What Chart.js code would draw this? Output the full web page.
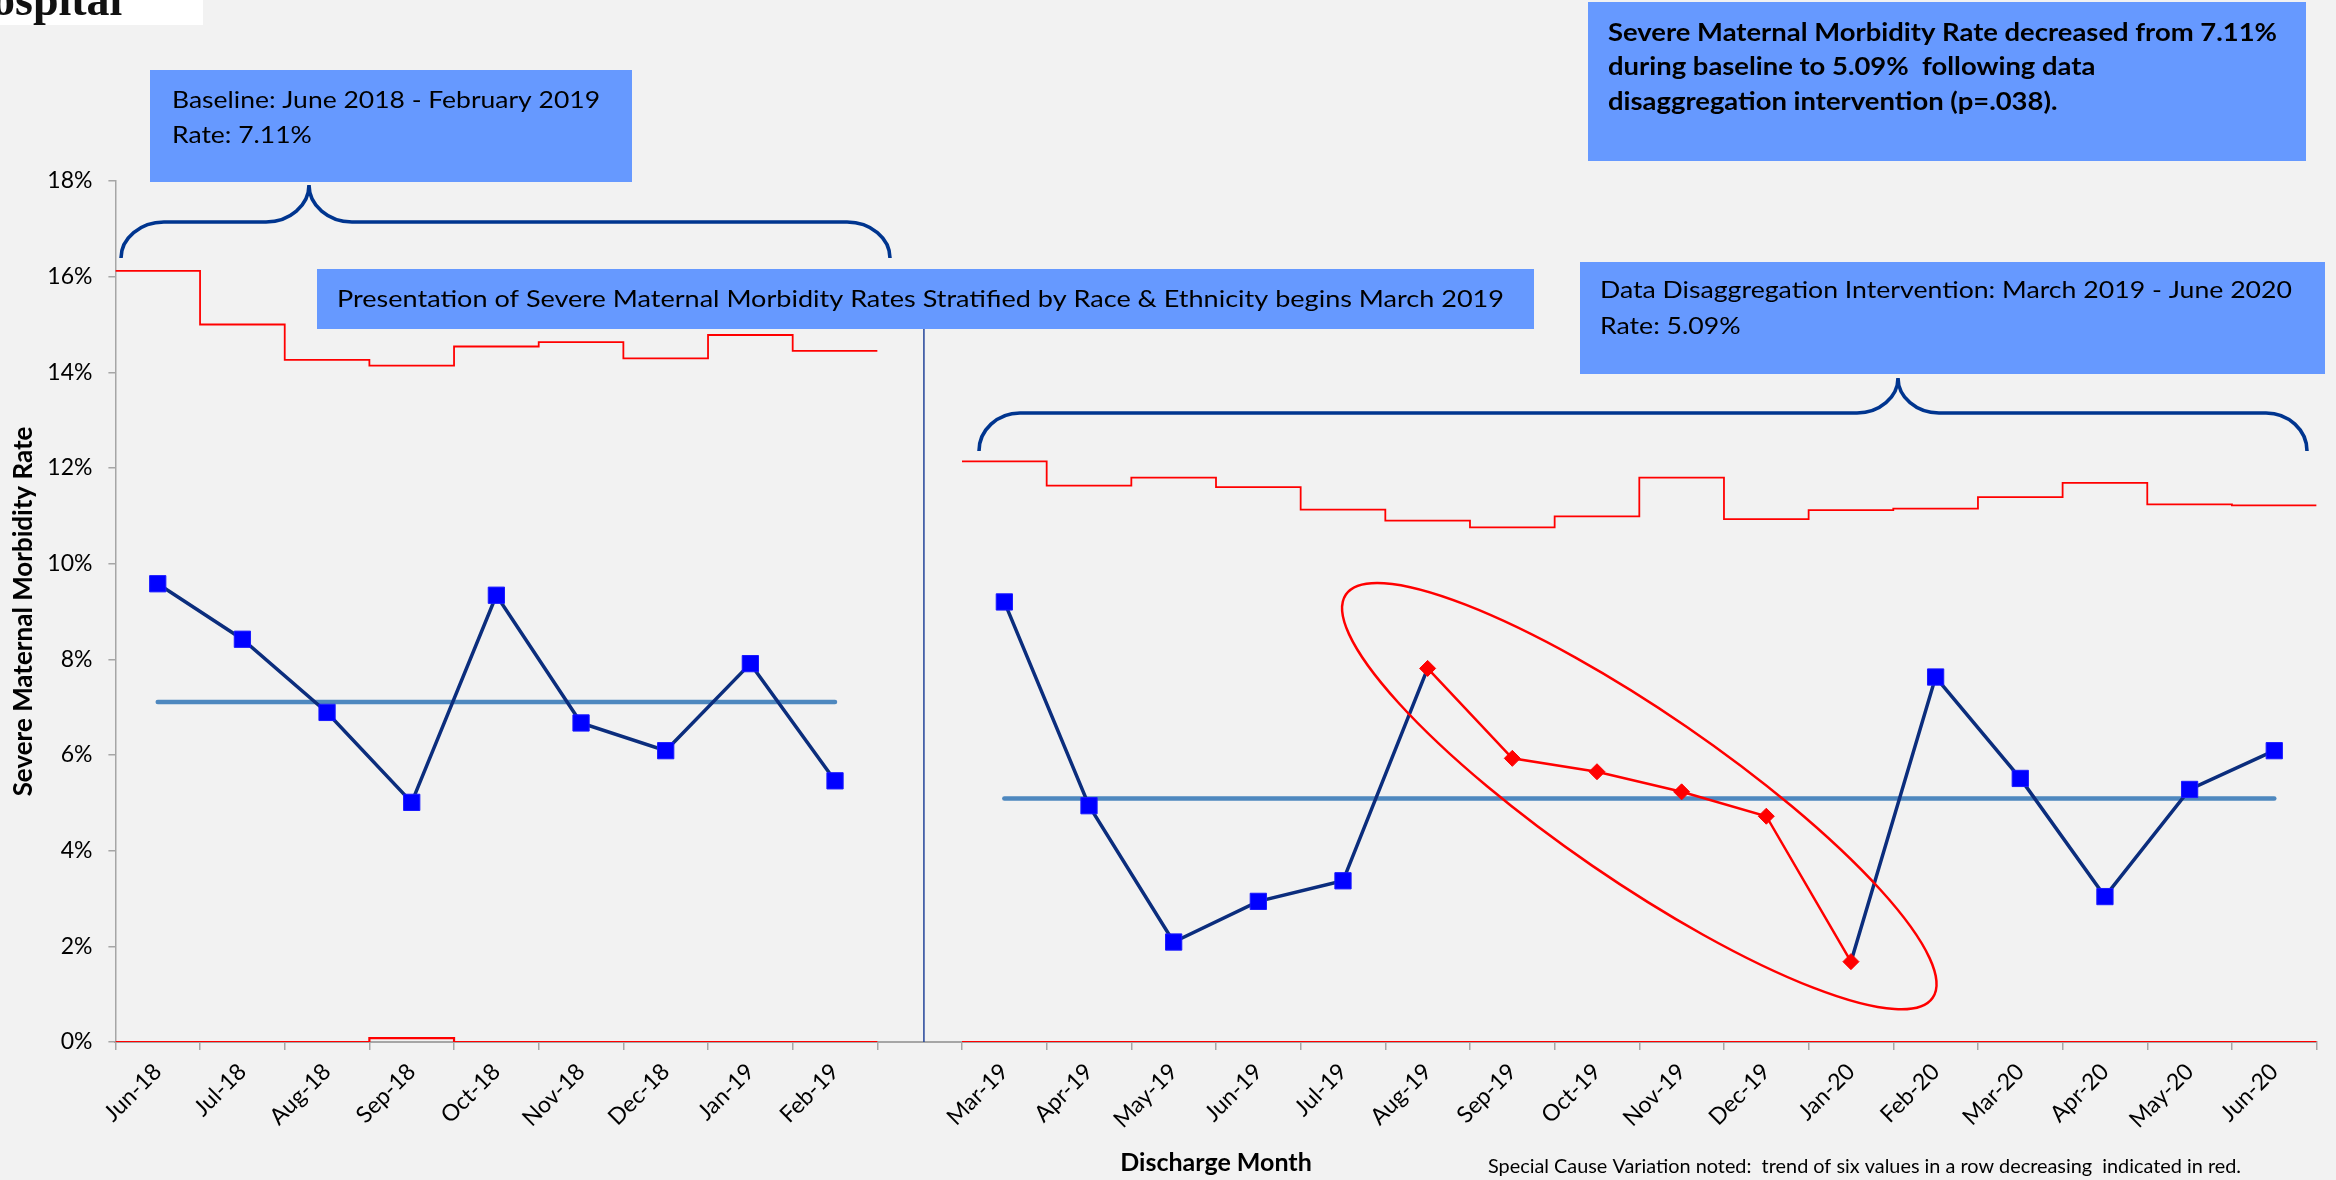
<!DOCTYPE html>
<html>
<head>
<meta charset="utf-8">
<script src="https://cdn.jsdelivr.net/npm/chart.js@4.4.1/dist/chart.umd.min.js"></script>
<style>
  html, body { margin: 0; padding: 0; background: #F2F2F2; overflow: hidden; }
  canvas { display: block; }
</style>
</head>
<body>
<canvas id="smm" width="2336" height="1180"></canvas>
<script>
// Discharge months; the empty label separates the baseline from the intervention period
const months = ['Jun-18', 'Jul-18', 'Aug-18', 'Sep-18', 'Oct-18', 'Nov-18', 'Dec-18', 'Jan-19', 'Feb-19', '',
  'Mar-19', 'Apr-19', 'May-19', 'Jun-19', 'Jul-19', 'Aug-19', 'Sep-19', 'Oct-19', 'Nov-19', 'Dec-19',
  'Jan-20', 'Feb-20', 'Mar-20', 'Apr-20', 'May-20', 'Jun-20'];

// Monthly severe maternal morbidity rate (%)
const smmRate = [9.58, 8.42, 6.89, 5.01, 9.34, 6.67, 6.09, 7.91, 5.46, null,
  9.20, 4.94, 2.09, 2.94, 3.37, 7.81, 5.93, 5.65, 5.23, 4.72,
  1.68, 7.63, 5.51, 3.04, 5.28, 6.09];

// Upper control limit per month (%)
const upperLimit = [16.12, 15.00, 14.26, 14.14, 14.54, 14.63, 14.29, 14.78, 14.45, null,
  12.14, 11.63, 11.80, 11.60, 11.13, 10.90, 10.76, 10.99, 11.80, 10.93,
  11.12, 11.15, 11.39, 11.69, 11.24, 11.22];

// Lower control limit per month (%)
const lowerLimit = [0, 0, 0, 0.08, 0, 0, 0, 0, 0, null,
  0, 0, 0, 0, 0, 0, 0, 0, 0, 0,
  0, 0, 0, 0, 0, 0];

// Period means (%)
const baselineMonths = ['Jun-18', 'Feb-19'];
const baselineMean = 7.11;
const interventionMonths = ['Mar-19', 'Jun-20'];
const interventionMean = 5.09;

// Special-cause trend: six values in a row decreasing
const trendMonths = ['Aug-19', 'Jan-20'];

// Annotation texts
const baselineText = ['Baseline: June 2018 - February 2019', 'Rate: 7.11%'];
const interventionText = ['Data Disaggregation Intervention: March 2019 - June 2020', 'Rate: 5.09%'];
const presentationText = 'Presentation of Severe Maternal Morbidity Rates Stratified by Race & Ethnicity begins March 2019';
const summaryText = ['Severe Maternal Morbidity Rate decreased from 7.11%',
  'during baseline to 5.09%  following data',
  'disaggregation intervention (p=.038).'];
const footnoteText = 'Special Cause Variation noted:  trend of six values in a row decreasing  indicated in red.';

// ---- derived series ----
const idx = m => months.indexOf(m);
const inRange = (i, r) => i >= idx(r[0]) && i <= idx(r[1]);
const inTrend = i => inRange(i, trendMonths);

const baselineLine = months.map((m, i) => inRange(i, baselineMonths) ? baselineMean : null);
const interventionLine = months.map((m, i) => inRange(i, interventionMonths) ? interventionMean : null);

// control limits drawn as steps spanning each month's full category width
function stepPoints(vals) {
  const pts = [];
  vals.forEach((v, i) => {
    if (v === null) { pts.push({ x: i + 0.5, y: null }); return; }
    pts.push({ x: i, y: v }, { x: i + 1, y: v });
  });
  return pts;
}

const NAVY = '#0B2D7D';
const BRACE = '#00358F';
const BOX = '#6699FF';
const RED = '#FF0000';
const MEAN = '#4E88BF';

function fitLines(ctx, lines, x, y0, gap, font, width) {
  ctx.font = font;
  const s = width / ctx.measureText(lines[0]).width;
  lines.forEach((t, k) => {
    ctx.save();
    ctx.translate(x, y0 + k * gap);
    ctx.scale(s, 1);
    ctx.fillText(t, 0, 0);
    ctx.restore();
  });
}

function brace(ctx, x0, x1, xt, yEnd, yH, yTip, rx) {
  const k = 0.55, dy = yEnd - yH, dt = yH - yTip;
  ctx.beginPath();
  ctx.moveTo(x0, yEnd);
  ctx.bezierCurveTo(x0, yEnd - k * dy, x0 + rx - k * rx, yH, x0 + rx, yH);
  ctx.lineTo(xt - rx, yH);
  ctx.bezierCurveTo(xt - rx + k * rx, yH, xt, yH - (1 - k) * dt, xt, yTip);
  ctx.bezierCurveTo(xt, yH - (1 - k) * dt, xt + rx - k * rx, yH, xt + rx, yH);
  ctx.lineTo(x1 - rx, yH);
  ctx.bezierCurveTo(x1 - rx + k * rx, yH, x1, yEnd - k * dy, x1, yEnd);
  ctx.stroke();
}

const decor = {
  id: 'decor',
  beforeDraw(chart) {
    const ctx = chart.ctx;
    ctx.save();
    ctx.fillStyle = '#F2F2F2';
    ctx.fillRect(0, 0, chart.width, chart.height);
    ctx.restore();
  },
  afterDatasetsDraw(chart) {
    const ctx = chart.ctx;
    const xs = chart.scales.xs, y = chart.scales.y;
    ctx.save();

    // divider between baseline and intervention
    const xDiv = xs.getPixelForValue(idx('') + 0.55);
    ctx.strokeStyle = '#24459A';
    ctx.lineWidth = 1.5;
    ctx.beginPath();
    ctx.moveTo(xDiv, 329);
    ctx.lineTo(xDiv, y.getPixelForValue(0));
    ctx.stroke();

    // ring around the special-cause trend
    const cx = xs.getPixelForValue((idx(trendMonths[0]) + idx(trendMonths[1]) + 1) / 2);
    const cy = y.getPixelForValue(5.14);
    ctx.strokeStyle = RED;
    ctx.lineWidth = 2.5;
    ctx.beginPath();
    ctx.ellipse(cx, cy, 356, 84, 34.5 * Math.PI / 180, 0, Math.PI * 2);
    ctx.stroke();

    // braces
    ctx.strokeStyle = BRACE;
    ctx.lineWidth = 3.6;
    ctx.lineCap = 'butt';
    brace(ctx, 121, 890, 309, 258, 222, 185, 43);
    brace(ctx, 979, 2307, 1898, 451, 413, 378, 41);

    // boxes
    ctx.fillStyle = BOX;
    ctx.fillRect(150, 70, 482, 112);
    ctx.fillRect(317, 269, 1217, 60);
    ctx.fillRect(1580, 262, 745, 112);
    ctx.fillRect(1588, 2, 718, 159);

    ctx.fillStyle = '#000';
    ctx.textBaseline = 'alphabetic';
    ctx.textAlign = 'left';
    fitLines(ctx, baselineText, 172, 108, 35, '24px Lato', 428);
    fitLines(ctx, [presentationText], 337, 307, 0, '24px Lato', 1167);
    fitLines(ctx, interventionText, 1600, 298, 36, '24px Lato', 692);
    fitLines(ctx, summaryText, 1608, 41, 34.3, 'bold 25px Lato', 669);
    fitLines(ctx, [footnoteText], 1488, 1173, 0, '20px Lato', 753);

    // hospital mark in the corner
    ctx.fillStyle = '#FFFFFF';
    ctx.fillRect(0, 0, 203, 25);
    ctx.fillStyle = '#111';
    ctx.font = 'bold 46px "Liberation Serif"';
    ctx.fillText('ospital', -8, 15);

    ctx.restore();
  }
};

function build() {
  new Chart(document.getElementById('smm'), {
    type: 'line',
    data: {
      labels: months,
      datasets: [
        {
          label: 'Severe Maternal Morbidity Rate',
          data: smmRate,
          borderColor: NAVY,
          borderWidth: 3.5,
          spanGaps: false,
          pointStyle: months.map((m, i) => inTrend(i) ? 'rectRot' : 'rect'),
          pointRadius: months.map((m, i) => inTrend(i) ? 8 : 11.5),
          pointBackgroundColor: months.map((m, i) => inTrend(i) ? RED : '#0000FF'),
          pointBorderColor: months.map((m, i) => inTrend(i) ? RED : '#1A1AFF'),
          pointBorderWidth: 1,
          segment: {
            borderColor: c => (inTrend(c.p0DataIndex) && inTrend(c.p1DataIndex)) ? RED : undefined,
            borderWidth: c => (inTrend(c.p0DataIndex) && inTrend(c.p1DataIndex)) ? 2.5 : undefined
          }
        },
        {
          label: 'Baseline mean',
          data: baselineLine,
          borderColor: MEAN,
          borderWidth: 4.5,
          borderCapStyle: 'round',
          pointRadius: 0
        },
        {
          label: 'Intervention mean',
          data: interventionLine,
          borderColor: MEAN,
          borderWidth: 4.5,
          borderCapStyle: 'round',
          pointRadius: 0
        },
        {
          label: 'Upper control limit',
          data: stepPoints(upperLimit),
          xAxisID: 'xs',
          borderColor: RED,
          borderWidth: 1.8,
          pointRadius: 0,
          spanGaps: false
        },
        {
          label: 'Lower control limit',
          data: stepPoints(lowerLimit),
          xAxisID: 'xs',
          borderColor: RED,
          borderWidth: 2.2,
          pointRadius: 0,
          spanGaps: false
        }
      ]
    },
    options: {
      responsive: false,
      animation: false,
      devicePixelRatio: 1,
      layout: { padding: { top: 181, right: 19.4, left: 0, bottom: 0 } },
      plugins: { legend: { display: false }, tooltip: { enabled: false } },
      elements: { line: { tension: 0 } },
      scales: {
        x: {
          type: 'category',
          offset: true,
          grid: { offset: true, drawOnChartArea: false, color: '#A6A6A6', lineWidth: 1.5, tickLength: 8 },
          border: { color: '#A6A6A6', width: 2 },
          ticks: {
            autoSkip: false, maxRotation: 45, minRotation: 45, color: '#000',
            font: { family: 'Lato', size: 23 }, padding: 8
          },
          title: {
            display: true, text: 'Discharge Month', color: '#000',
            font: { family: 'Lato', size: 25, weight: 'bold' }, padding: { top: 3, bottom: 2 }
          },
          afterFit(s) { s.height = 138; }
        },
        xs: { type: 'linear', display: false, min: 0, max: months.length },
        y: {
          min: 0, max: 18,
          ticks: {
            stepSize: 2, callback: v => v + '%', color: '#000',
            font: { family: 'Lato', size: 23 }, padding: 16
          },
          grid: { drawOnChartArea: false, color: '#A6A6A6', lineWidth: 1.5, tickLength: 7 },
          border: { color: '#A6A6A6', width: 1.5 },
          title: {
            display: true, text: 'Severe Maternal Morbidity Rate', color: '#000',
            font: { family: 'Lato', size: 26, weight: 'bold' }, padding: { top: 8, bottom: 0 }
          },
          afterFit(s) { s.width = 115.4; }
        }
      }
    },
    plugins: [decor]
  });
}

Promise.all([
  document.fonts.load('22px Lato'),
  document.fonts.load('bold 22px Lato'),
  document.fonts.load('bold 46px "Liberation Serif"')
]).then(build, build);
</script>
</body>
</html>
